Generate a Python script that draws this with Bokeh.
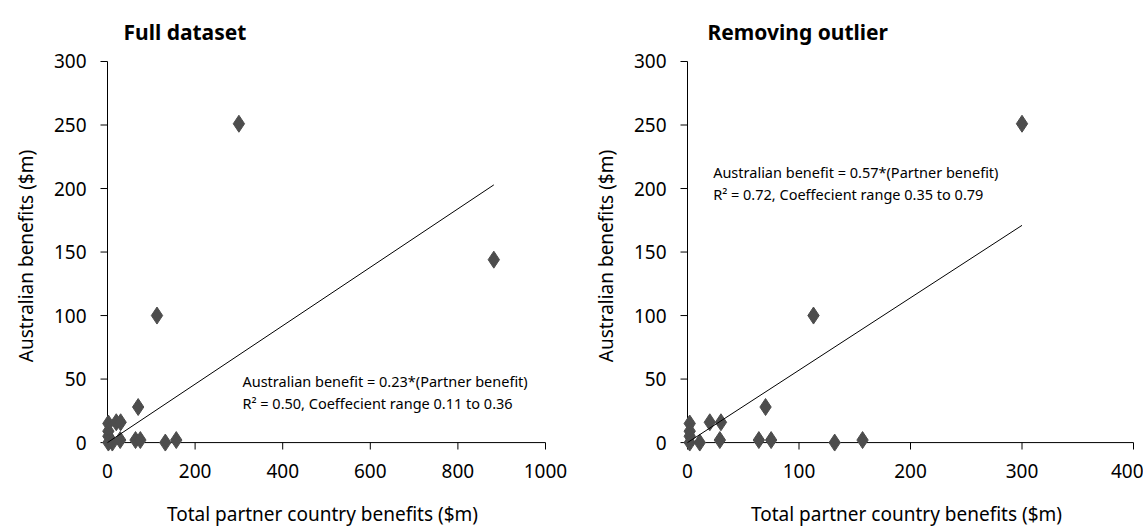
from bokeh.plotting import figure
from bokeh.layouts import row
from bokeh.models import Range1d, Label, FixedTicker
from bokeh.embed import file_html
from bokeh.resources import INLINE

# ---- data ----
partner_full = [2, 2, 2, 2, 11, 20, 30, 29, 64, 75, 132, 157, 70, 113, 300, 882]
aus_full = [15, 9, 5, 0, 0, 16, 16, 2, 2, 2, 0, 2, 28, 100, 251, 144]
partner_trim = partner_full[:-1]
aus_trim = aus_full[:-1]

slope_full = 0.23
slope_trim = 0.57

x_ticks_full = [0, 200, 400, 600, 800, 1000]
x_ticks_trim = [0, 100, 200, 300, 400]
y_ticks = [0, 50, 100, 150, 200, 250, 300]

titles = ["Full dataset", "Removing outlier"]
eq_full = ["Australian benefit = 0.23*(Partner benefit)",
           "R\u00b2 = 0.50, Coeffecient range 0.11 to 0.36"]
eq_trim = ["Australian benefit = 0.57*(Partner benefit)",
           "R\u00b2 = 0.72, Coeffecient range 0.35 to 0.79"]

x_label = "Total partner country benefits ($m)"
y_label = "Australian benefits ($m)"

FONT = "Noto Sans"
MARK = "#4d4d4d"

FIG_H = 529
TOP = 60          # frame top (px)
PLOT_H = 385      # pixels from y=0 to y=300
PAD = 9           # pixels of room left/below the axes for the markers
TICK = 7          # tick length in px


def panel(xs, ys, slope, xmax, xticks, plot_w, width, bl, title, toff, eq, eqx, eqy):
    ppx = plot_w / xmax            # px per x unit
    ppy = PLOT_H / 300.0           # px per y unit
    ymax = 300
    x_range = Range1d(-PAD / ppx, xmax + 1 / ppx)
    y_range = Range1d(-PAD / ppy, ymax + 1 / ppy)
    frame_w = plot_w + PAD + 1
    frame_h = PLOT_H + PAD + 1
    p = figure(width=width, height=FIG_H, x_range=x_range, y_range=y_range,
               output_backend="svg", toolbar_location=None,
               min_border_left=bl, min_border_right=width - bl - frame_w,
               min_border_top=TOP, min_border_bottom=FIG_H - TOP - frame_h)
    p.outline_line_color = None
    p.xgrid.visible = False
    p.ygrid.visible = False
    p.background_fill_color = "white"
    p.border_fill_color = "white"

    p.title.text = title
    p.title.text_font = FONT
    p.title.text_font_style = "bold"
    p.title.text_font_size = "21px"
    p.title.text_color = "black"
    p.title.align = "left"
    p.title.offset = toff
    p.title.standoff = 29

    for ax in (p.xaxis[0], p.yaxis[0]):
        ax.axis_line_color = None
        ax.major_tick_line_color = None
        ax.major_tick_out = 0
        ax.major_tick_in = 0
        ax.minor_tick_line_color = None
        ax.major_label_text_font = FONT
        ax.major_label_text_font_size = "19px"
        ax.major_label_text_color = "black"
        ax.axis_label_text_font = FONT
        ax.axis_label_text_font_size = "19px"
        ax.axis_label_text_font_style = "normal"
        ax.axis_label_text_color = "black"

    p.xaxis.ticker = FixedTicker(ticks=xticks)
    p.xaxis.major_label_standoff = 12
    p.xaxis.axis_label = x_label
    p.xaxis.axis_label_standoff = 20

    p.yaxis.ticker = FixedTicker(ticks=y_ticks)
    p.yaxis.major_label_standoff = 12
    p.yaxis.axis_label = y_label
    p.yaxis.axis_label_standoff = 12

    # axis lines at zero and outward tick marks (drawn inside the padded frame)
    p.segment(x0=[0, 0], y0=[0, 0], x1=[xmax, 0], y1=[0, ymax],
              line_color="black", line_width=1)
    tx = TICK / ppx
    ty = TICK / ppy
    p.segment(x0=xticks, y0=[0] * len(xticks), x1=xticks, y1=[-ty] * len(xticks),
              line_color="black", line_width=1)
    p.segment(x0=[0] * len(y_ticks), y0=y_ticks, x1=[-tx] * len(y_ticks), y1=y_ticks,
              line_color="black", line_width=1)

    p.scatter(xs, ys, marker="diamond", size=17, fill_color=MARK, line_color=MARK)
    lx = [0, max(xs)]
    p.line(lx, [slope * v for v in lx], line_color="black", line_width=1)

    for txt, yy in zip(eq, eqy):
        p.add_layout(Label(x=eqx, y=yy, text=txt, text_font=FONT, text_font_size="14.5px",
                           text_color="black", text_baseline="middle", text_align="left"))
    return p


p1 = panel(partner_full, aus_full, slope_full, 1000, x_ticks_full, 438, 588, 98,
           titles[0], 25, eq_full, 308, [48.3, 31.2])
p2 = panel(partner_trim, aus_trim, slope_trim, 400, x_ticks_trim, 446, 555, 90,
           titles[1], 29, eq_trim, 23, [212.7, 195.6])

layout = row(p1, p2)
open("out.html", "w").write(file_html(layout, INLINE))
